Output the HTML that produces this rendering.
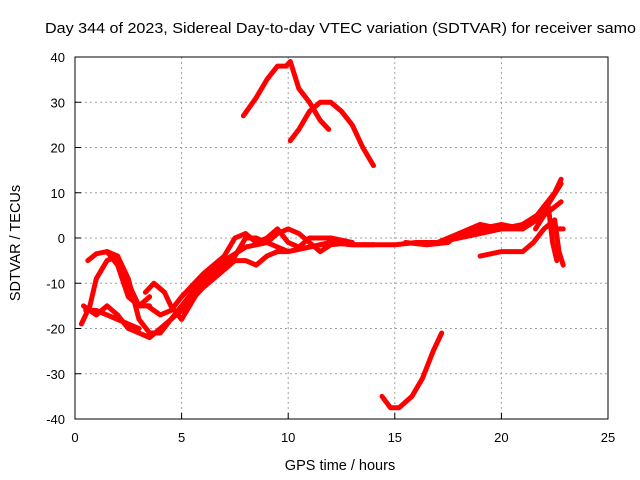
<!DOCTYPE html>
<html><head><meta charset="utf-8"><style>
html,body{margin:0;padding:0;background:#fff;overflow:hidden;}
svg{display:block;font-family:"Liberation Sans",sans-serif;}
</style></head><body>
<svg id="chart" width="640" height="480" viewBox="0 0 640 480" xmlns="http://www.w3.org/2000/svg">
<text x="45" y="33" font-size="15" textLength="591" lengthAdjust="spacingAndGlyphs" fill="#000">Day 344 of 2023, Sidereal Day-to-day VTEC variation (SDTVAR) for receiver samo</text>
<g id="grid"></g>
<g id="series"></g>
<rect x="75" y="57" width="533" height="362" fill="none" stroke="#000" stroke-width="1"/>
<g id="ticks"></g>
<text x="340" y="470" font-size="14.5" text-anchor="middle">GPS time / hours</text>
<text x="20" y="243" font-size="14.5" text-anchor="middle" transform="rotate(-90 20 243)">SDTVAR / TECUs</text>
</svg>
<script>
const xTicks=[0,5,10,15,20,25];
const yTicks=[-40,-30,-20,-10,0,10,20,30,40];
const arcTop1=[[7.9,27],[8.5,31],[9,35],[9.5,38],[9.9,38],[10.1,39],[10.5,33],[11,30],[11.5,26],[11.9,24]];
const arcTop2=[[10.1,21.5],[10.5,24],[11,28],[11.5,30],[12,30],[12.5,28],[13,25],[13.5,20],[14,16]];
const arcBottom=[[14.4,-35],[14.8,-37.5],[15.2,-37.5],[15.8,-35],[16.3,-31],[16.8,-25],[17.2,-21]];
const arcA=[[0.6,-5],[1,-3.5],[1.5,-3],[2,-4],[2.5,-10],[3,-15],[3.5,-15]];
const arcB=[[0.3,-19],[0.7,-15],[1,-9],[1.5,-5],[2,-4],[2.5,-9],[3,-18],[3.5,-21],[4,-21],[4.5,-18],[5,-15],[6,-9],[7,-5],[8,-2],[9,-1],[10,-3],[11,-2],[12,-1],[13,-1.5],[14,-1.5],[15,-1.5],[16,-1],[17,-1],[18,0],[19,1],[20,2],[21,2],[22,5],[22.8,8]];
const arcC=[[0.4,-15],[1,-17],[1.5,-15],[2,-17],[2.5,-20],[3,-21],[3.5,-22],[4,-20],[5,-16],[6,-11],[7,-7],[7.5,-5],[8,-5],[8.5,-6],[9,-4],[9.5,-3],[10,-3],[11,-2],[12,-1],[13,-1.5],[14,-1.5]];
const arcD=[[3.3,-12],[3.7,-10],[4.2,-12],[4.5,-15],[5,-18],[5.5,-14],[6,-10],[7,-6],[7.5,-4],[8,0],[8.5,0],[9,-1],[9.5,1],[10,2],[10.5,1],[11,-1],[11.5,-3],[12,-1.5],[13,-1]];
const arcE=[[3.4,-15],[4,-17],[4.5,-16],[5,-13],[6,-8],[7,-4],[7.5,0],[8,1],[8.5,-1],[9,0],[9.5,2],[10,-1],[10.5,-2],[11,0],[12,0],[13,-1]];
const arcF=[[0.5,-16],[1,-16],[1.5,-17],[2,-18],[2.5,-19],[3,-20]];
const arcG=[[1.5,-3],[2,-6],[2.5,-13],[3,-15],[3.5,-13]];
const arcH=[[15.5,-1],[16.5,-1.5],[17.5,-1],[18,1],[19,3],[20,2],[21,3],[22,6],[22.8,12]];
const arcI=[[19,-4],[20,-3],[21,-3],[21.5,-1],[22,2],[22.5,4],[22.7,-3],[22.9,-6]];
const arcJ=[[17,-1],[18,1],[19,2],[20,3],[21,2],[21.5,4],[22,7],[22.5,10],[22.8,13]];
const arcK=[[21.6,2],[22,5],[22.2,7],[22.4,-1],[22.6,-5]];
const arcL=[[22.7,2],[22.9,2]];
const allSeries=[arcTop1,arcTop2,arcBottom,arcA,arcB,arcC,arcD,arcE,arcF,arcG,arcH,arcI,arcJ,arcK,arcL];
const X0=75,X1=608,Y0=419,Y1=57,XMIN=0,XMAX=25,YMIN=-40,YMAX=40;
function sx(v){return X0+(v-XMIN)/(XMAX-XMIN)*(X1-X0);}
function sy(v){return Y0-(v-YMIN)/(YMAX-YMIN)*(Y0-Y1);}
const NS="http://www.w3.org/2000/svg";
const grid=document.getElementById('grid'),ticks=document.getElementById('ticks'),ser=document.getElementById('series');
function mk(t,a,p){const e=document.createElementNS(NS,t);for(const k in a)e.setAttribute(k,a[k]);p.appendChild(e);return e;}
xTicks.forEach(v=>{
  const x=sx(v);
  if(v>XMIN&&v<XMAX){const g=mk('line',{x1:x,x2:x,y1:Y1,y2:Y0,stroke:'#a0a0a0','stroke-dasharray':'2,3'},grid);
  
  }
  const t=mk('text',{x:x,y:Y0+23,'font-size':13,'text-anchor':'middle'},ticks);t.textContent=v;
  
  
  const tm=mk('line',{x1:x,x2:x,y1:Y0,y2:Y0-6,stroke:'#000'},ticks);
  
  
});
yTicks.forEach(v=>{
  const y=sy(v);
  if(v>YMIN&&v<YMAX){const g=mk('line',{x1:X0,x2:X1,y1:y,y2:y,stroke:'#a0a0a0','stroke-dasharray':'2,3'},grid);
  
  }
  const t=mk('text',{x:X0-10,y:y+5,'font-size':13,'text-anchor':'end'},ticks);t.textContent=v;
  
  
  const tm=mk('line',{x1:X0,x2:X0+6,y1:y,y2:y,stroke:'#000'},ticks);
  
  
});
allSeries.forEach((s,i)=>{
  const pts=s.map(p=>sx(p[0]).toFixed(1)+','+sy(p[1]).toFixed(1)).join(' ');
  const pl=mk('polyline',{points:pts,fill:'none',stroke:'#ff0000','stroke-width':5,'stroke-linejoin':'round','stroke-linecap':'round'},ser);
  
  
});
</script>
</body></html>
